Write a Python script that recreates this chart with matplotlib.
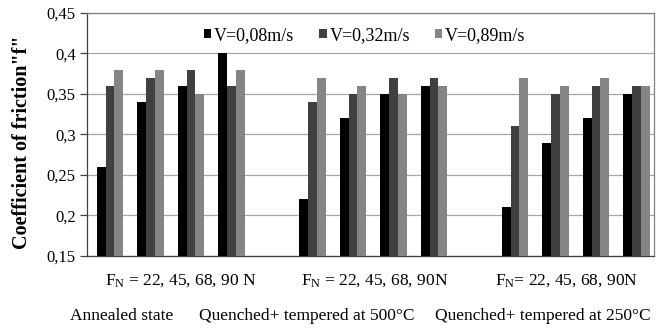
import numpy as np
import matplotlib
matplotlib.use('Agg')
import matplotlib.pyplot as plt

plt.rcParams['font.family'] = 'Liberation Serif'
plt.rcParams['mathtext.fontset'] = 'custom'
plt.rcParams['mathtext.rm'] = 'Liberation Serif'
plt.rcParams['mathtext.it'] = 'Liberation Serif:italic'

# friction coefficient per state, loads 22/45/68/90 N
states = ['Annealed state', 'Quenched+ tempered at 500°C', 'Quenched+ tempered at 250°C']
loads = [22, 45, 68, 90]
speed_labels = ['V=0,08m/s', 'V=0,32m/s', 'V=0,89m/s']
f_v008 = [0.26, 0.34, 0.36, 0.40,  0.22, 0.32, 0.35, 0.36,  0.21, 0.29, 0.32, 0.35]
f_v032 = [0.36, 0.37, 0.38, 0.36,  0.34, 0.35, 0.37, 0.37,  0.31, 0.35, 0.36, 0.36]
f_v089 = [0.38, 0.38, 0.35, 0.38,  0.37, 0.36, 0.35, 0.36,  0.37, 0.36, 0.37, 0.36]
yticks = [0.15, 0.2, 0.25, 0.3, 0.35, 0.4, 0.45]

colors = ['#000000', '#404040', '#858585']

fig = plt.figure(figsize=(6.68, 3.32), dpi=100)
ax = fig.add_axes([0.130, 0.229, 0.849, 0.732])

# one empty slot between the three states
pos = np.array([g * 5 + k for g in range(len(states)) for k in range(len(loads))], dtype=float)
w = 0.218
shift = 0.07
for i, (vals, lab) in enumerate(zip([f_v008, f_v032, f_v089], speed_labels)):
    ax.bar(pos + shift + (i - 1) * w, vals, width=w,
           color=colors[i], label=lab, zorder=3, linewidth=0)

ax.set_xlim(-0.5, 13.5)
ax.set_ylim(0.15, 0.45)
ax.set_yticks(yticks)
ax.set_yticklabels([('%g' % t).replace('.', ',') for t in yticks], fontsize=12)
ax.set_xticks([])
ax.yaxis.grid(True, color='#a6a6a6', linewidth=0.9, zorder=0)
for s in ax.spines.values():
    s.set_color('#808080')
    s.set_linewidth(0.9)
ax.spines['left'].set_color('#404040')
ax.spines['bottom'].set_color('#404040')
ax.tick_params(axis='y', length=5, width=0.9, color='#404040', pad=3)

ax.set_ylabel('Coefficient of friction"f"', fontsize=14.5, fontweight='bold')
ax.yaxis.set_label_coords(-0.097, 0.47)

ax.legend(loc='upper center', bbox_to_anchor=(0.49, 1.0), ncol=3, frameon=False,
          fontsize=13, handlelength=0.4, handleheight=0.4, handletextpad=0.15,
          columnspacing=1.4, borderaxespad=0.4)

# load and heat-treatment captions under each group
load_text = [r'F$_{\mathrm{N}}$ = 22, 45, 68, 90 N', r'F$_{\mathrm{N}}$ = 22, 45, 68, 90N',
             r'F$_{\mathrm{N}}$= 22, 45, 68, 90N']
load_x = [1.82, 6.61, 11.35]
state_x = [0.36, 4.93, 10.75]
tr = ax.get_xaxis_transform()
for lx, lt in zip(load_x, load_text):
    ax.text(lx, -0.065, lt, transform=tr, ha='center', va='top', fontsize=12.5)
for sx, st in zip(state_x, states):
    ax.text(sx, -0.215, st, transform=tr, ha='center', va='top', fontsize=12.5)

fig.savefig('out.png', dpi=100)
